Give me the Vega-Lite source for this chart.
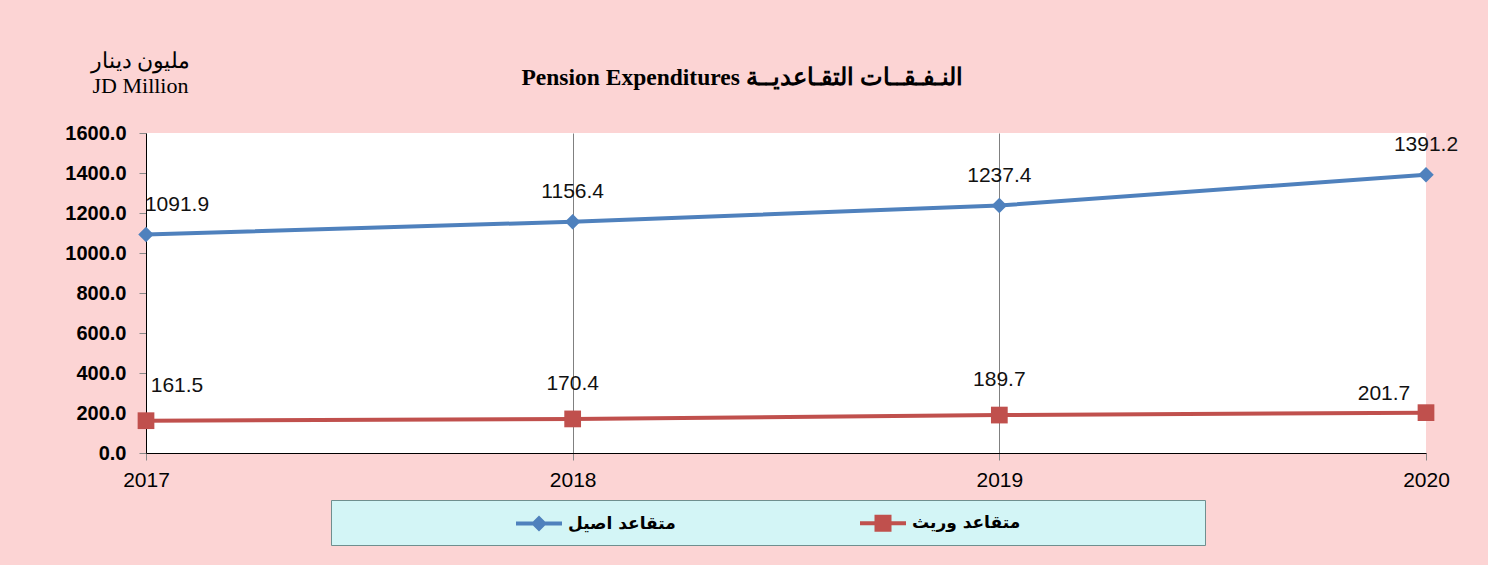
{
  "$schema": "https://vega.github.io/schema/vega-lite/v6.json",
  "width": 1280,
  "height": 320,
  "autosize": "none",
  "padding": {"left": 146, "top": 133, "right": 62, "bottom": 112},
  "background": "#fcd4d4",
  "config": {
    "view": {"fill": "white", "stroke": null},
    "font": "Liberation Sans",
    "legend": {
      "orient": "none",
      "legendX": 185,
      "legendY": 367,
      "direction": "horizontal",
      "fillColor": "#d3f5f6",
      "strokeColor": "#6f8f8f",
      "padding": 13,
      "columnPadding": 184,
      "labelFont": "DejaVu Sans",
      "labelFontWeight": "bold",
      "labelFontSize": 17,
      "labelColor": "black",
      "labelOffset": 19,
      "labelLimit": 500,
      "symbolSize": 400,
      "symbolStrokeWidth": 0,
      "titleFontSize": 10,
      "titleOrient": "left",
      "titlePadding": 185
    }
  },
  "title": {
    "text": "Pension Expenditures النـفـقــات التقـاعديــة",
    "font": "Liberation Serif",
    "fontSize": 23.5,
    "fontWeight": "bold",
    "color": "black",
    "anchor": "middle",
    "frame": "group",
    "dx": -44,
    "offset": -40
  },
  "data": {
    "values": [
      {"year": 2017, "series": "متقاعد اصيل", "value": 1091.9},
      {"year": 2018, "series": "متقاعد اصيل", "value": 1156.4},
      {"year": 2019, "series": "متقاعد اصيل", "value": 1237.4},
      {"year": 2020, "series": "متقاعد اصيل", "value": 1391.2},
      {"year": 2017, "series": "متقاعد وريث", "value": 161.5},
      {"year": 2018, "series": "متقاعد وريث", "value": 170.4},
      {"year": 2019, "series": "متقاعد وريث", "value": 189.7},
      {"year": 2020, "series": "متقاعد وريث", "value": 201.7}
    ]
  },
  "encoding": {
    "x": {
      "field": "year",
      "type": "ordinal",
      "scale": {"type": "point", "padding": 0},
      "axis": {
        "title": null,
        "labelAngle": 0,
        "labelFontSize": 21,
        "labelColor": "black",
        "labelPadding": 9,
        "domainColor": "black",
        "domainWidth": 1,
        "tickColor": "#888888",
        "tickSize": 7,
        "grid": true,
        "gridColor": "#808080",
        "gridWidth": 1,
        "gridOpacity": {"condition": {"test": "datum.value == 2020 || datum.value == 2017", "value": 0}, "value": 1}
      }
    },
    "y": {
      "field": "value",
      "type": "quantitative",
      "scale": {"domain": [0, 1600], "nice": false},
      "axis": {
        "values": [0, 200, 400, 600, 800, 1000, 1200, 1400, 1600],
        "format": ".1f",
        "grid": false,
        "labelFontSize": 20,
        "labelFontWeight": "bold",
        "labelColor": "black",
        "labelPadding": 13,
        "domainColor": "black",
        "domainWidth": 1,
        "tickColor": "#888888",
        "tickSize": 7,
        "title": ["مليون دينار", "JD Million"],
        "titleAngle": 0,
        "titleX": -6,
        "titleY": -83,
        "titleAlign": "center",
        "titleBaseline": "top",
        "titleFont": "Liberation Serif",
        "titleFontWeight": "normal",
        "titleFontSize": 22,
        "titleLineHeight": 25,
        "titleColor": "black"
      }
    },
    "color": {
      "field": "series",
      "type": "nominal",
      "scale": {"domain": ["متقاعد اصيل", "متقاعد وريث"], "range": ["#4f81bd", "#c0504d"]},
      "legend": {
        "title": "\u00a0",
        "encode": {
          "labels": {
            "update": {
              "text": {"signal": "datum.label == 'متقاعد وريث' ? datum.label + '\u00a0\u00a0\u00a0\u00a0\u00a0\u00a0\u00a0\u00a0\u00a0\u00a0\u00a0\u00a0\u00a0\u00a0\u00a0\u00a0\u00a0\u00a0\u00a0\u00a0\u00a0\u00a0\u00a0\u00a0\u00a0\u00a0\u00a0\u00a0\u00a0\u200b' : datum.label"}
            }
          }
        }
      }
    }
  },
  "layer": [
    {
      "mark": {"type": "line", "strokeWidth": 4}
    },
    {
      "transform": [{"filter": "datum.series == 'متقاعد اصيل'"}],
      "mark": {"type": "point", "shape": "diamond", "filled": true, "opacity": 1, "size": 240}
    },
    {
      "transform": [{"filter": "datum.series == 'متقاعد وريث'"}],
      "mark": {"type": "point", "shape": "square", "filled": true, "opacity": 1, "size": 280}
    },
    {
      "transform": [{"filter": "datum.series == 'متقاعد اصيل' && datum.year != 2017"}],
      "mark": {"type": "text", "dy": -30, "fontSize": 21, "color": "#111111"},
      "encoding": {"text": {"field": "value", "type": "quantitative", "format": ".1f"}, "color": {"value": "#111111"}}
    },
    {
      "transform": [{"filter": "datum.series == 'متقاعد اصيل' && datum.year == 2017"}],
      "mark": {"type": "text", "dy": -30, "dx": 31, "fontSize": 21, "color": "#111111"},
      "encoding": {"text": {"field": "value", "type": "quantitative", "format": ".1f"}, "color": {"value": "#111111"}}
    },
    {
      "transform": [{"filter": "datum.series == 'متقاعد وريث' && (datum.year == 2018 || datum.year == 2019)"}],
      "mark": {"type": "text", "dy": -35, "fontSize": 21, "color": "#111111"},
      "encoding": {"text": {"field": "value", "type": "quantitative", "format": ".1f"}, "color": {"value": "#111111"}}
    },
    {
      "transform": [{"filter": "datum.series == 'متقاعد وريث' && datum.year == 2017"}],
      "mark": {"type": "text", "dy": -35, "dx": 31, "fontSize": 21, "color": "#111111"},
      "encoding": {"text": {"field": "value", "type": "quantitative", "format": ".1f"}, "color": {"value": "#111111"}}
    },
    {
      "transform": [{"filter": "datum.series == 'متقاعد وريث' && datum.year == 2020"}],
      "mark": {"type": "text", "dy": -19, "dx": -42, "fontSize": 21, "color": "#111111"},
      "encoding": {"text": {"field": "value", "type": "quantitative", "format": ".1f"}, "color": {"value": "#111111"}}
    },
    {
      "transform": [{"filter": "datum.year < 0"}],
      "mark": {"type": "point", "filled": true, "opacity": 1},
      "encoding": {
        "shape": {
          "field": "series",
          "type": "nominal",
          "scale": {
            "domain": ["متقاعد اصيل", "متقاعد وريث"],
            "range": [
              "M-2.3,-0.2L-0.6,-0.2L0,-0.8L0.6,-0.2L2.3,-0.2L2.3,0.2L0.6,0.2L0,0.8L-0.6,0.2L-2.3,0.2Z",
              "M-2.3,-0.2L-0.85,-0.2L-0.85,-0.85L0.85,-0.85L0.85,-0.2L2.3,-0.2L2.3,0.2L0.85,0.2L0.85,0.85L-0.85,0.85L-0.85,0.2L-2.3,0.2Z"
            ]
          },
          "legend": {
            "title": "\u00a0",
            "encode": {
              "labels": {
                "update": {
                  "text": {"signal": "datum.label == 'متقاعد وريث' ? datum.label + '\u00a0\u00a0\u00a0\u00a0\u00a0\u00a0\u00a0\u00a0\u00a0\u00a0\u00a0\u00a0\u00a0\u00a0\u00a0\u00a0\u00a0\u00a0\u00a0\u00a0\u00a0\u00a0\u00a0\u00a0\u00a0\u00a0\u00a0\u00a0\u00a0\u200b' : datum.label"}
                }
              }
            }
          }
        }
      }
    }
  ]
}
